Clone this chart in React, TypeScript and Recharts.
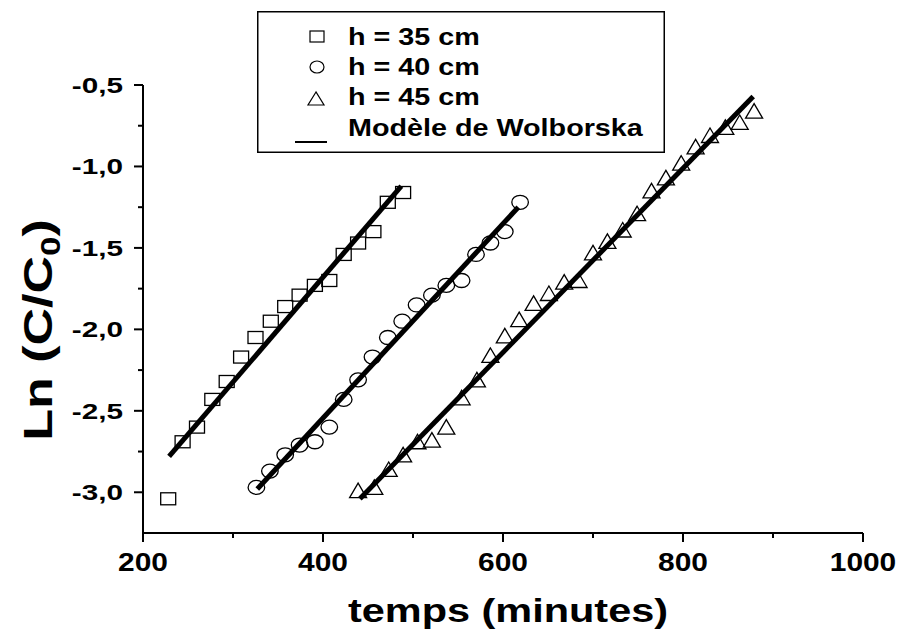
import { ScatterChart, Scatter, XAxis, YAxis, Legend } from "recharts";

// h = 35 cm
const temps35 = [228, 244, 260, 277, 293, 309, 325, 342, 358, 374, 391, 407, 423, 439, 456, 472, 489];
const ln35 = [-3.04, -2.69, -2.6, -2.43, -2.32, -2.17, -2.05, -1.95, -1.86, -1.79, -1.73, -1.7, -1.54, -1.47, -1.4, -1.22, -1.16];

// h = 40 cm
const temps40 = [326, 341, 358, 374, 391, 407, 423, 439, 455, 472, 488, 504, 521, 537, 554, 570, 586, 602, 619];
const ln40 = [-2.97, -2.87, -2.77, -2.71, -2.69, -2.6, -2.43, -2.31, -2.17, -2.05, -1.95, -1.85, -1.79, -1.73, -1.7, -1.54, -1.47, -1.4, -1.22];

// h = 45 cm
const temps45 = [439, 457, 473, 489, 505, 521, 537, 554, 571, 586, 602, 618, 634, 651, 668, 684, 700, 716, 733, 749, 765, 781, 798, 814, 830, 847, 863, 879];
const ln45 = [-2.99, -2.97, -2.86, -2.77, -2.69, -2.68, -2.6, -2.42, -2.31, -2.16, -2.04, -1.94, -1.84, -1.78, -1.71, -1.7, -1.53, -1.46, -1.39, -1.29, -1.15, -1.07, -0.98, -0.88, -0.81, -0.76, -0.73, -0.66];

// Wolborska model lines (end points)
const fitT35 = [229, 487];
const fitLn35 = [-2.78, -1.12];
const fitT40 = [327, 617];
const fitLn40 = [-2.98, -1.25];
const fitT45 = [441, 878];
const fitLn45 = [-3.04, -0.57];

const xTicks = [200, 300, 400, 500, 600, 700, 800, 900, 1000];
const yTicks = [-3.0, -2.75, -2.5, -2.25, -2.0, -1.75, -1.5, -1.25, -1.0, -0.75, -0.5];

const legendNames = ["h = 35 cm", "h = 40 cm", "h = 45 cm", "Modèle de Wolborska"];

const FONT = "'Liberation Sans', Arial, sans-serif";

const zip = (xs: number[], ys: number[]) => xs.map((x, i) => ({ x, y: ys[i] }));

const SquareDot = (p: any) => (
  <rect x={p.cx - 7.5} y={p.cy - 6} width={15} height={12} fill="none" stroke="#000" strokeWidth={1.3} />
);
const CircleDot = (p: any) => (
  <ellipse cx={p.cx} cy={p.cy} rx={8.3} ry={7} fill="none" stroke="#000" strokeWidth={1.3} />
);
const TriangleDot = (p: any) => (
  <polygon
    points={`${p.cx},${p.cy - 7.5} ${p.cx - 8.5},${p.cy + 7} ${p.cx + 8.5},${p.cy + 7}`}
    fill="none"
    stroke="#000"
    strokeWidth={1.3}
  />
);

const isMajorY = (v: number) => Math.abs(v * 2 - Math.round(v * 2)) < 1e-6;

const XTick = (props: any) => {
  const { x, y, payload } = props;
  const v = payload.value;
  const major = v % 200 === 0;
  return (
    <g>
      <line x1={x} y1={y} x2={x} y2={y + (major ? 9 : 5)} stroke="#000" strokeWidth={2} />
      {major && (
        <text
          transform={`translate(${x},${y + 38}) scale(1.15,1)`}
          textAnchor="middle"
          fontFamily={FONT}
          fontWeight="bold"
          fontSize={26}
          fill="#000"
        >
          {v}
        </text>
      )}
    </g>
  );
};

const YTick = (props: any) => {
  const { x, y, payload } = props;
  const v = payload.value;
  const major = isMajorY(v);
  return (
    <g>
      <line x1={x - (major ? 9 : 5)} y1={y} x2={x} y2={y} stroke="#000" strokeWidth={2} />
      {major && (
        <text
          transform={`translate(${x - 20},${y + 8}) scale(1.35,1)`}
          textAnchor="end"
          fontFamily={FONT}
          fontWeight="bold"
          fontSize={22}
          fill="#000"
        >
          {v.toFixed(1).replace(".", ",")}
        </text>
      )}
    </g>
  );
};

const XTitle = () => (
  <text
    transform="translate(508,622) scale(1.22,1)"
    textAnchor="middle"
    fontFamily={FONT}
    fontWeight="bold"
    fontSize={34}
    fill="#000"
  >
    temps (minutes)
  </text>
);

const YTitle = () => (
  <text
    transform="translate(52,330) rotate(-90) scale(1.3,1)"
    textAnchor="middle"
    fontFamily={FONT}
    fontWeight="bold"
    fontSize={40}
    fill="#000"
  >
    Ln (C/C<tspan fontSize={27} dy={8}>0</tspan>
    <tspan dy={-8}>)</tspan>
  </text>
);

const LegendBox = () => {
  const rows = [26, 56, 88];
  const baselines = [34, 64, 94, 125];
  return (
    <svg width={408} height={142} style={{ display: "block" }}>
      <rect x={0.75} y={0.75} width={406.5} height={140.5} fill="#fff" stroke="#000" strokeWidth={1.5} />
      <rect x={60 - 7} y={rows[0] - 6} width={14} height={11} fill="none" stroke="#000" strokeWidth={1.2} />
      <ellipse cx={60} cy={rows[1]} rx={7} ry={6} fill="none" stroke="#000" strokeWidth={1.2} />
      <polygon
        points={`${59},${rows[2] - 7} ${51},${rows[2] + 6} ${67},${rows[2] + 6}`}
        fill="none"
        stroke="#000"
        strokeWidth={1.2}
      />
      <line x1={38} y1={131} x2={70} y2={131} stroke="#000" strokeWidth={2} />
      {legendNames.map((n, i) => (
        <text
          key={n}
          transform={`translate(91,${baselines[i]}) scale(1.25,1)`}
          fontFamily={FONT}
          fontWeight="bold"
          fontSize={23}
          fill="#000"
        >
          {n}
        </text>
      ))}
    </svg>
  );
};

export default function App() {
  return (
    <div style={{ position: "absolute", left: 0, top: 0, background: "#fff" }}>
      <ScatterChart width={905} height={635} margin={{ top: 85, right: 42, bottom: 0, left: 0 }}>
        <XAxis
          type="number"
          dataKey="x"
          domain={[200, 1000]}
          ticks={xTicks}
          interval={0}
          height={102}
          tickSize={0}
          tickMargin={0}
          tickLine={false}
          tick={<XTick />}
          axisLine={{ stroke: "#000", strokeWidth: 2 }}
          label={<XTitle />}
        />
        <YAxis
          type="number"
          dataKey="y"
          domain={[-3.25, -0.5]}
          ticks={yTicks}
          interval={0}
          width={143}
          tickSize={0}
          tickMargin={0}
          tickLine={false}
          tick={<YTick />}
          axisLine={{ stroke: "#000", strokeWidth: 2 }}
          label={<YTitle />}
        />
        <Scatter name="h = 35 cm" data={zip(temps35, ln35)} shape={SquareDot} isAnimationActive={false} />
        <Scatter name="h = 40 cm" data={zip(temps40, ln40)} shape={CircleDot} isAnimationActive={false} />
        <Scatter name="h = 45 cm" data={zip(temps45, ln45)} shape={TriangleDot} isAnimationActive={false} />
        <Scatter
          name="Modèle de Wolborska"
          data={zip(fitT35, fitLn35)}
          line={{ stroke: "#000", strokeWidth: 5 }}
          shape={() => <g />}
          isAnimationActive={false}
        />
        <Scatter
          data={zip(fitT40, fitLn40)}
          line={{ stroke: "#000", strokeWidth: 5 }}
          shape={() => <g />}
          isAnimationActive={false}
        />
        <Scatter
          data={zip(fitT45, fitLn45)}
          line={{ stroke: "#000", strokeWidth: 5 }}
          shape={() => <g />}
          isAnimationActive={false}
        />
        <Legend
          layout="horizontal"
          verticalAlign="middle"
          align="center"
          content={<LegendBox />}
          wrapperStyle={{ position: "absolute", left: 257, top: 11, width: 408, height: 142 }}
        />
      </ScatterChart>
    </div>
  );
}
